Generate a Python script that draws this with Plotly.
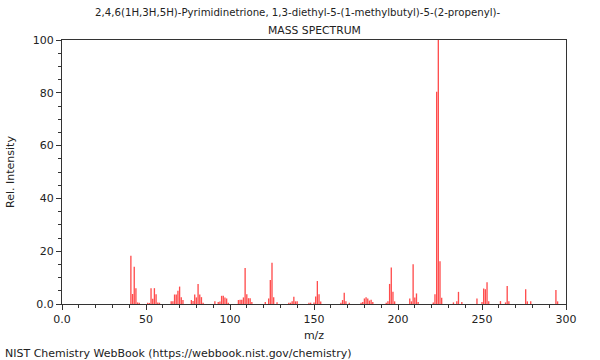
import plotly.graph_objects as go

mz = [41, 42, 43, 44, 45, 46,
      51, 52, 53, 54, 55, 56, 57, 58,
      65, 66, 67, 68, 69, 70, 71, 72,
      77, 78, 79, 80, 81, 82, 83, 84,
      91, 93, 94, 95, 96, 97, 98, 99,
      105, 106, 107, 108, 109, 110, 111, 112, 113,
      121, 123, 124, 125, 126, 128,
      135, 136, 137, 138, 139, 140,
      147, 148, 150, 151, 152, 153, 154,
      166, 167, 168, 169, 171,
      178, 179, 180, 181, 182, 183, 184, 185,
      193, 194, 195, 196, 197, 198,
      207, 208, 209, 210, 211, 212,
      221, 222, 223, 224, 225, 226,
      233, 235, 236, 238,
      247, 250, 251, 252, 253, 254,
      261, 264, 265, 266,
      276, 277, 279,
      294, 295]
intensity = [18.3, 3.8, 14.1, 6.0, 0.6, 0.5,
             0.5, 0.4, 6.0, 2.0, 6.0, 3.7, 0.6, 0.5,
             1.0, 1.0, 3.6, 3.6, 5.0, 6.6, 2.6, 1.5,
             1.5, 1.1, 3.6, 2.5, 7.6, 3.6, 2.6, 0.5,
             1.0, 0.8, 0.9, 3.1, 3.1, 2.5, 2.1, 0.5,
             1.5, 1.6, 1.6, 2.5, 13.6, 3.7, 2.2, 2.2, 0.8,
             0.8, 2.1, 9.1, 15.6, 2.6, 0.7,
             0.5, 0.5, 1.0, 2.7, 1.0, 1.0,
             0.5, 0.5, 0.6, 2.8, 8.7, 3.7, 0.9,
             0.5, 1.5, 4.3, 1.0, 0.5,
             0.5, 0.8, 2.1, 2.6, 2.1, 1.3, 1.6, 0.8,
             0.5, 1.0, 7.6, 13.8, 4.6, 1.0,
             2.1, 1.0, 15.1, 2.5, 4.0, 0.8,
             0.6, 3.7, 80.4, 100.0, 16.2, 2.4,
             0.6, 1.0, 4.6, 0.8,
             2.1, 0.8, 5.9, 5.6, 8.2, 1.0,
             1.1, 0.6, 6.8, 1.0,
             5.6, 1.0, 1.0,
             5.3, 1.0]

x_tickvals = [0, 50, 100, 150, 200, 250, 300]
x_ticktext = ["0.0", "50", "100", "150", "200", "250", "300"]
y_tickvals = [0, 20, 40, 60, 80, 100]
y_ticktext = ["0.0", "20", "40", "60", "80", "100"]

title_line1 = "2,4,6(1H,3H,5H)-Pyrimidinetrione, 1,3-diethyl-5-(1-methylbutyl)-5-(2-propenyl)-"
title_line2 = "MASS SPECTRUM"
footer = "NIST Chemistry WebBook (https://webbook.nist.gov/chemistry)"

FONT = "DejaVu Sans"
TXT = "#222"

fig = go.Figure()
fig.add_trace(go.Bar(
    x=mz, y=intensity, width=0.8,
    marker=dict(color="rgba(255,0,0,0.7)", line=dict(width=0)),
))

axis_common = dict(
    showgrid=False, zeroline=False, showline=True, linecolor="#333", linewidth=1,
    mirror=True, ticks="outside", ticklen=5, tickcolor="#333",
    tickfont=dict(family=FONT, size=11, color=TXT),
)
fig.update_xaxes(range=[0, 300], tickvals=x_tickvals, ticktext=x_ticktext,
                 minor=dict(ticks="outside", ticklen=3, dtick=10, tickcolor="#333"),
                 title=dict(text="m/z", font=dict(family=FONT, size=11, color=TXT), standoff=6),
                 **axis_common)
fig.update_yaxes(range=[0, 100], tickvals=y_tickvals, ticktext=y_ticktext,
                 minor=dict(ticks="outside", ticklen=3, dtick=5, tickcolor="#333"),
                 title=dict(text="Rel. Intensity", font=dict(family=FONT, size=11, color=TXT), standoff=15),
                 **axis_common)

plot_h = 360 - 40 - 56
plot_w = 600 - 62 - 34

fig.update_layout(
    width=600, height=360,
    margin=dict(l=62, r=34, t=40, b=56, autoexpand=False),
    plot_bgcolor="white", paper_bgcolor="white",
    showlegend=False,
    font=dict(family=FONT, size=11, color=TXT),
    annotations=[
        dict(text=title_line1, xref="paper", yref="paper", showarrow=False,
             x=(297 - 62) / plot_w, y=(304 - 13) / plot_h, xanchor="center", yanchor="middle",
             font=dict(family=FONT, size=10.2, color=TXT)),
        dict(text=title_line2, xref="paper", yref="paper", showarrow=False,
             x=(314 - 62) / plot_w, y=(304 - 30) / plot_h, xanchor="center", yanchor="middle",
             font=dict(family=FONT, size=10.8, color=TXT)),
        dict(text=footer, xref="paper", yref="paper", showarrow=False,
             x=(3 - 62) / plot_w, y=(304 - 353) / plot_h, xanchor="left", yanchor="middle",
             font=dict(family=FONT, size=11, color=TXT)),
    ],
)

fig.write_html("out.html", config={"displayModeBar": False},
               post_script="document.body.style.margin='0';")
